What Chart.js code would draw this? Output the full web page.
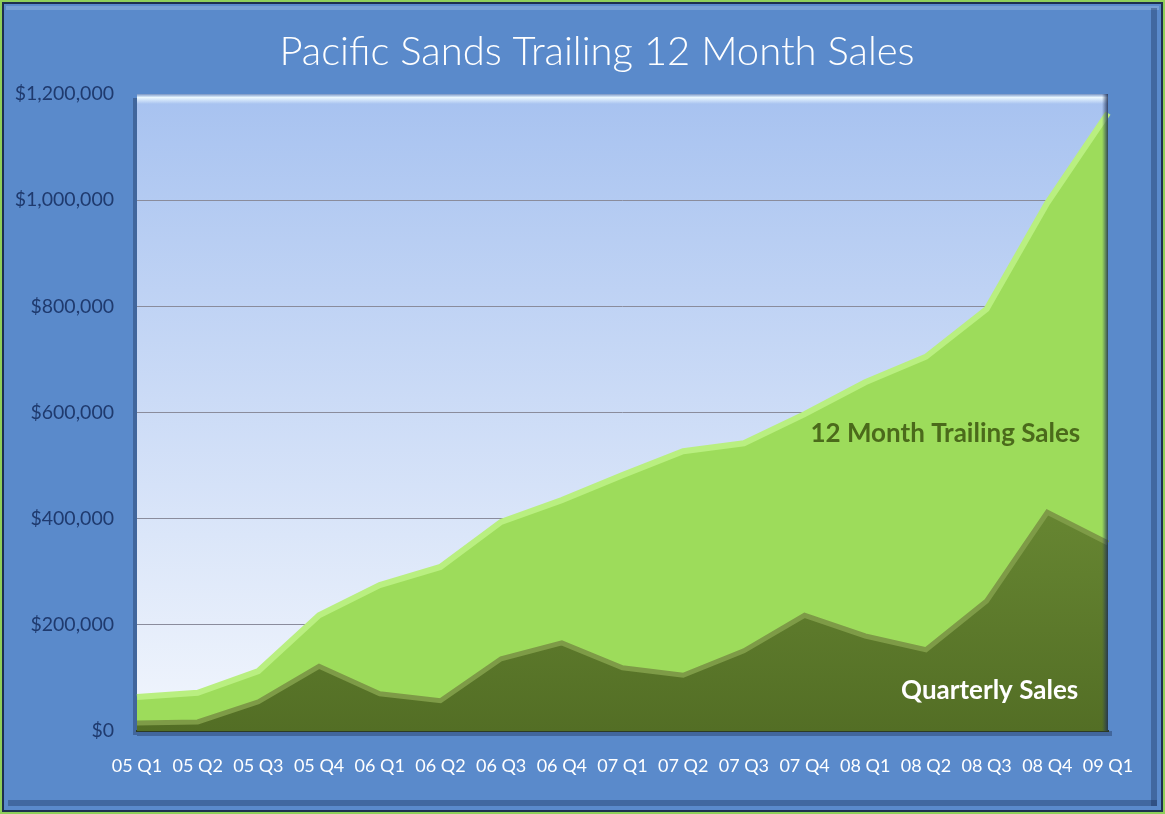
<!DOCTYPE html>
<html>
<head>
<meta charset="utf-8">
<script src="https://cdn.jsdelivr.net/npm/chart.js@4"></script>
<style>
  html, body { margin: 0; padding: 0; background: #5a8acb; }
</style>
</head>
<body>
<canvas id="sales" width="1165" height="814"></canvas>
<script>
const quarters = ["05 Q1", "05 Q2", "05 Q3", "05 Q4", "06 Q1", "06 Q2", "06 Q3", "06 Q4",
  "07 Q1", "07 Q2", "07 Q3", "07 Q4", "08 Q1", "08 Q2", "08 Q3", "08 Q4", "09 Q1"];
const trailingSales = [64000, 72000, 113000, 218000, 275000, 309000, 394000, 435000,
  482000, 527000, 542000, 597000, 657000, 705000, 795000, 995000, 1164000];
const quarterlySales = [15000, 17000, 55000, 122000, 70000, 57000, 136000, 166000,
  119000, 105000, 151000, 218000, 179000, 153000, 245000, 412000, 354000];
const yMin = 0;
const yMax = 1200000;
const yStep = 200000;

const titleText = "Pacific Sands Trailing 12 Month Sales";
const trailingLabel = "12 Month Trailing Sales";
const quarterlyLabel = "Quarterly Sales";

// background, frame and plot-area shading
const frame = {
  id: "frame",
  beforeDraw(chart) {
    const c = chart.ctx;
    const a = chart.chartArea;
    const w = chart.width, h = chart.height;
    c.save();
    c.fillStyle = "#8fcf5a";
    c.fillRect(0, 0, w, h);
    c.fillStyle = "#1d2f4e";
    c.fillRect(2, 2, w - 4, h - 4);
    c.fillStyle = "#5a8acb";
    c.fillRect(4, 4, w - 8, h - 8);
    // soft bevel on the outer panel
    c.fillStyle = "rgba(255,255,255,0.18)";
    c.fillRect(6, 6, w - 12, 4);
    c.fillStyle = "rgba(20,40,80,0.35)";
    c.fillRect(w - 14, 8, 6, h - 16);
    c.fillRect(8, h - 14, w - 16, 6);

    // plot drop shadow
    c.fillStyle = "rgba(20,35,70,0.35)";
    c.fillRect(a.left - 4, a.top + 4, 4, a.bottom - a.top);
    c.fillRect(a.left, a.bottom, a.right - a.left + 4, 5);

    const g = c.createLinearGradient(0, a.top, 0, a.bottom);
    g.addColorStop(0, "#a7c2f0");
    g.addColorStop(1, "#f2f6fd");
    c.fillStyle = g;
    c.fillRect(a.left, a.top, a.right - a.left, a.bottom - a.top);
    c.restore();
  },
  afterDraw(chart) {
    const c = chart.ctx;
    const a = chart.chartArea;
    c.save();
    // top highlight of plot
    const g = c.createLinearGradient(0, a.top, 0, a.top + 10);
    g.addColorStop(0, "rgba(120,150,200,0.9)");
    g.addColorStop(0.35, "rgba(235,248,255,1)");
    g.addColorStop(1, "rgba(235,248,255,0)");
    c.fillStyle = g;
    c.fillRect(a.left, a.top, a.right - a.left, 10);
    // right side dark edge
    const s = c.createLinearGradient(a.right - 6, 0, a.right, 0);
    s.addColorStop(0, "rgba(40,60,100,0)");
    s.addColorStop(1, "rgba(30,45,80,0.85)");
    c.fillStyle = s;
    c.fillRect(a.right - 6, a.top, 6, a.bottom - a.top);
    c.restore();
  },
  afterDatasetsDraw(chart) {
    const c = chart.ctx;
    const x = chart.scales.x;
    const y = chart.scales.y;
    c.save();
    c.textAlign = "center";
    c.textBaseline = "middle";
    c.font = "bold 26px Lato, 'Open Sans', sans-serif";
    c.fillStyle = "#4b6a1b";
    c.fillText(trailingLabel, x.getPixelForValue(13.32), y.getPixelForValue(560000));
    c.fillStyle = "#ffffff";
    c.fillText(quarterlyLabel, x.getPixelForValue(14.05), y.getPixelForValue(76000));
    c.restore();
  }
};

const titlePlugin = {
  id: "titleText",
  afterDraw(chart) {
    const c = chart.ctx;
    c.save();
    c.font = "300 40px Lato, 'Open Sans', sans-serif";
    c.fillStyle = "#ffffff";
    c.textAlign = "center";
    c.textBaseline = "middle";
    c.fillText(titleText, 597, 52);
    c.restore();
  }
};

function darkFill(ctx) {
  const area = ctx.chart.chartArea;
  if (!area) return "#5b7a2a";
  const g = ctx.chart.ctx.createLinearGradient(0, area.top + 380, 0, area.bottom);
  g.addColorStop(0, "#6a8a34");
  g.addColorStop(1, "#536e25");
  return g;
}

const sales = document.getElementById("sales");
var myChart = new Chart(sales, {
  type: "line",
  data: {
    labels: quarters,
    datasets: [
      {
        label: quarterlyLabel,
        data: quarterlySales,
        fill: "origin",
        backgroundColor: darkFill,
        borderColor: "#7e9b47",
        borderWidth: 5,
        pointRadius: 0,
        tension: 0,
      },
      {
        label: trailingLabel,
        data: trailingSales,
        fill: "origin",
        backgroundColor: "#9ddc5b",
        borderColor: "#b9ef80",
        borderWidth: 6,
        pointRadius: 0,
        tension: 0,
      },
    ],
  },
  options: {
    responsive: false,
    animation: false,
    layout: {
      padding: { top: 94, right: 57, left: 0, bottom: 0 },
    },
    plugins: {
      legend: { display: false },
      title: { display: false },
      tooltip: { enabled: false },
    },
    scales: {
      x: {
        offset: false,
        afterFit(scale) { scale.height = 83; },
        grid: { display: false, drawTicks: false },
        border: { display: true, color: "#2c3b24", width: 2 },
        ticks: {
          autoSkip: false,
          maxRotation: 0,
          padding: 24,
          color: "#ffffff",
          font: { family: "Lato, 'Open Sans', sans-serif", size: 18 },
        },
      },
      y: {
        min: yMin,
        max: yMax,
        afterFit(scale) { scale.width = 137; },
        grid: { color: "#8a8c9c", lineWidth: 1, drawTicks: false },
        border: { display: false },
        ticks: {
          stepSize: yStep,
          padding: 23,
          color: "#1f3a6e",
          font: { family: "Lato, 'Open Sans', sans-serif", size: 19.5 },
          callback: function (value) {
            return "$" + value.toLocaleString("en-US");
          },
        },
      },
    },
  },
  plugins: [frame, titlePlugin],
});
</script>
</body>
</html>
